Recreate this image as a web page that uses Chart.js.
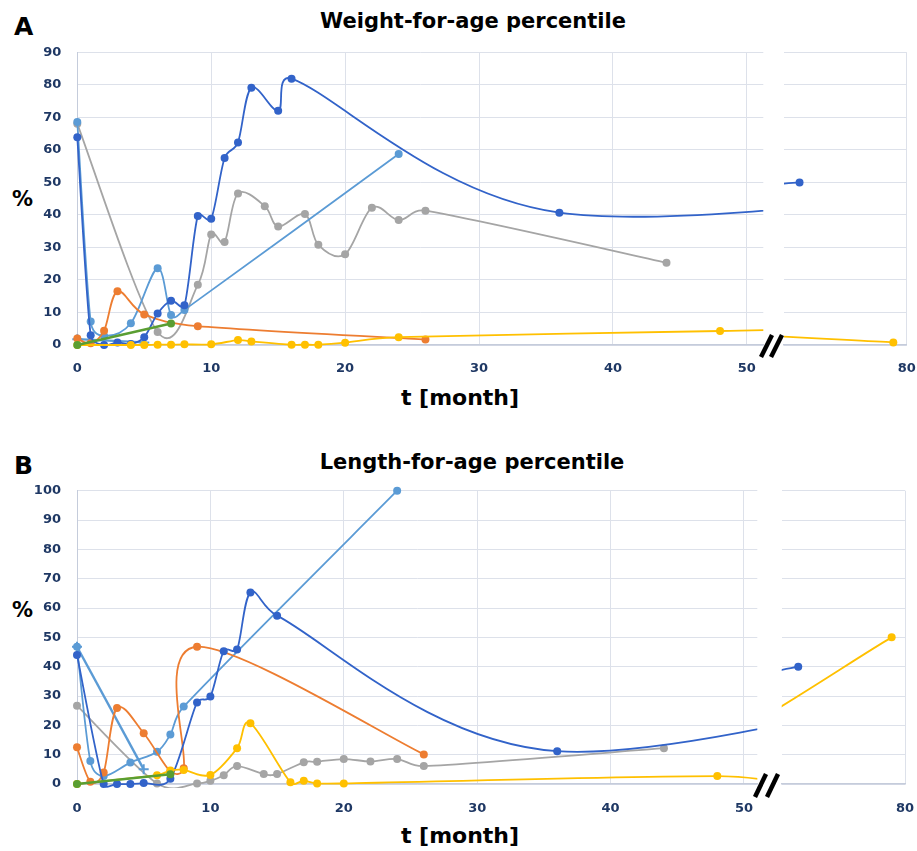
<!DOCTYPE html>
<html>
<head>
<meta charset="utf-8">
<script src="https://cdn.jsdelivr.net/npm/chart.js@4.4.1/dist/chart.umd.min.js"></script>
<style>
  body { margin: 0; background: #fff; }
  #wrap { position: relative; width: 917px; height: 851px; font-family: "DejaVu Sans", sans-serif; }
  canvas { position: absolute; }
  .t { position: absolute; font-weight: bold; color: #000; white-space: nowrap; line-height: 1; }
  .c { transform: translateX(-50%); }
</style>
</head>
<body>
<div id="wrap">
  <div class="t" style="left:14px;top:14px;font-size:25px">A</div>
  <div class="t c" style="left:473px;top:11px;font-size:21px">Weight-for-age percentile</div>
  <div class="t" style="left:12px;top:189px;font-size:21px">%</div>
  <div class="t c" style="left:460px;top:387px;font-size:22px">t [month]</div>

  <div class="t" style="left:14px;top:453px;font-size:25px">B</div>
  <div class="t c" style="left:472px;top:452px;font-size:21px">Length-for-age percentile</div>
  <div class="t" style="left:12px;top:600px;font-size:21px">%</div>
  <div class="t c" style="left:460px;top:825px;font-size:22px">t [month]</div>

  <canvas id="a1" width="775" height="380" style="left:0;top:40px"></canvas>
  <canvas id="a2" width="142" height="380" style="left:775px;top:40px"></canvas>
  <canvas id="b1" width="770" height="373" style="left:0;top:478px"></canvas>
  <canvas id="b2" width="147" height="373" style="left:770px;top:478px"></canvas>

  <svg width="917" height="851" style="position:absolute;left:0;top:0;pointer-events:none">
    <g stroke="#000" stroke-width="4.5">
      <line x1="761" y1="357" x2="772" y2="335"/>
      <line x1="771" y1="357" x2="782" y2="335"/>
      <line x1="755" y1="797" x2="766" y2="774"/>
      <line x1="767" y1="797" x2="778" y2="774"/>
    </g>
  </svg>
</div>
<script>
// tick labels
var xTicksMain = [0, 10, 20, 30, 40, 50];
var xTicksFar = [80];

// A: weight-for-age percentile (t in months)
var waDarkT = [0, 1, 2, 3, 4, 5, 6, 7, 8, 9, 10, 11, 12, 13, 15, 16, 36, 72];
var waDarkV = [63.9, 3.0, 0, 0.8, 0.3, 2.4, 9.7, 13.6, 12.2, 39.7, 38.8, 57.5, 62.3, 79.1, 72.0, 81.9, 40.7, 50];
var waLightT = [0, 1, 2, 4, 6, 7, 8, 24];
var waLightV = [68.6, 7.2, 2.8, 6.7, 23.6, 9.2, 10.8, 58.7];
var waCrossT = [0, 5];
var waCrossV = [1.8, 0.8];
var waGrayT = [0, 6, 9, 10, 11, 12, 14, 15, 17, 18, 20, 22, 24, 26, 44];
var waGrayV = [68, 4, 18.5, 34, 31.7, 46.6, 42.7, 36.4, 40.3, 30.8, 27.9, 42.2, 38.4, 41.3, 25.3];
var waOrangeT = [0, 1, 2, 3, 5, 9, 26];
var waOrangeV = [2.0, 0.5, 4.4, 16.5, 9.4, 5.8, 1.7];
var waYellowT = [0, 4, 5, 6, 7, 8, 10, 12, 13, 16, 17, 18, 20, 24, 48, 60, 79];
var waYellowV = [0, 0, 0, 0.1, 0.1, 0.2, 0.2, 1.5, 1.1, 0.1, 0.1, 0.1, 0.7, 2.4, 4.3, 4.6, 0.8];
var waGreenT = [0, 7];
var waGreenV = [0, 6.6];

// B: length-for-age percentile
var laDarkT = [0, 2, 3, 4, 5, 7, 9, 10, 11, 12, 13, 15, 36, 72];
var laDarkV = [44, 0, 0, 0, 0.3, 1.8, 27.8, 29.8, 45.3, 45.9, 65.3, 57.4, 11.2, 40];
var laLightT = [0, 1, 2, 4, 6, 7, 8, 24];
var laLightV = [46.8, 7.8, 2.7, 7.3, 11, 16.9, 26.4, 100];
var laCrossT = [0, 5];
var laCrossV = [46.8, 5];
var laGrayT = [0, 6, 9, 10, 11, 12, 14, 15, 17, 18, 20, 22, 24, 26, 44];
var laGrayV = [26.7, 0.2, 0.2, 1.1, 3, 6.1, 3.4, 3.4, 7.4, 7.6, 8.5, 7.7, 8.5, 6.1, 12.2];
var laOrangeT = [0, 1, 2, 3, 5, 7, 8, 9, 26];
var laOrangeV = [12.5, 0.8, 3.9, 25.9, 17.3, 4.3, 5.4, 46.8, 10.1];
var laYellowT = [0, 6, 7, 8, 10, 12, 13, 16, 17, 18, 20, 48, 60, 79];
var laYellowV = [0, 3, 4.6, 4.8, 3.1, 12.2, 20.7, 0.6, 1.1, 0.2, 0.2, 2.7, 0.4, 50];
var laGreenT = [0, 7];
var laGreenV = [0, 3.3];

var GRID = '#dde1ea', AXIS = '#c5ccdb', TICK = '#1f3864';
var C_DARK = '#3263c9', C_LIGHT = '#5b9bd5', C_GRAY = '#a5a5a5',
    C_ORANGE = '#ed7d31', C_YELLOW = '#ffc000', C_GREEN = '#5a9e32';
var FONT = { family: 'DejaVu Sans', weight: 'bold', size: 13 };

// spreadsheet-style smoothing: handles are 1/6 of the neighbour chord,
// but never longer than half of the segment they belong to
var excelSmooth = {
  id: 'excelSmooth',
  beforeDatasetDraw: function (chart, args) {
    var meta = args.meta, line = meta.dataset;
    if (!line || !line.options.tension) return;
    var p = meta.data, n = p.length;
    function P(i) { return p[Math.max(0, Math.min(n - 1, i))]; }
    function dist(a, b) { return Math.hypot(b.x - a.x, b.y - a.y); }
    for (var i = 0; i < n - 1; i++) {
      var a = P(i - 1), b = P(i), c = P(i + 1), d = P(i + 2);
      var d12 = dist(b, c), d02 = dist(a, c), d13 = dist(b, d);
      var f1 = d02 > 0 ? Math.min(1 / 6, d12 / (2 * d02)) : 0;
      var f2 = d13 > 0 ? Math.min(1 / 6, d12 / (2 * d13)) : 0;
      b.cp2x = b.x + (c.x - a.x) * f1; b.cp2y = b.y + (c.y - a.y) * f1;
      c.cp1x = c.x - (d.x - b.x) * f2; c.cp1y = c.y - (d.y - b.y) * f2;
    }
    p[0].cp1x = p[0].x; p[0].cp1y = p[0].y;
    p[n - 1].cp2x = p[n - 1].x; p[n - 1].cp2y = p[n - 1].y;
    line._pointsUpdated = true;
  }
};

function pts(t, v) {
  return t.map(function (x, i) { return { x: x, y: v[i] }; });
}

function datasets(d, clip) {
  function ds(t, v, color, extra) {
    var o = {
      data: pts(t, v), borderColor: color, backgroundColor: color,
      pointBackgroundColor: color, pointBorderWidth: 0, pointRadius: 4,
      borderWidth: 1.8, tension: 0.3, capBezierPoints: false, clip: clip
    };
    for (var k in extra) o[k] = extra[k];
    return o;
  }
  // first dataset is drawn on top
  return [
    ds(d.greenT, d.greenV, C_GREEN, { borderWidth: 2.6, tension: 0 }),
    ds(d.yellowT, d.yellowV, C_YELLOW),
    ds(d.darkT, d.darkV, C_DARK),
    ds(d.orangeT, d.orangeV, C_ORANGE),
    ds(d.crossT, d.crossV, C_LIGHT, { pointStyle: 'cross', pointRadius: 5, pointBorderWidth: 2,
      pointBorderColor: C_LIGHT, borderWidth: 2.4, tension: 0 }),
    ds(d.lightT, d.lightV, C_LIGHT),
    ds(d.grayT, d.grayV, C_GRAY)
  ];
}

function makeChart(id, d, cfg) {
  new Chart(document.getElementById(id), {
    type: 'line',
    data: { datasets: datasets(d, cfg.clip) },
    plugins: [excelSmooth],
    options: {
      responsive: false,
      animation: false,
      events: [],
      layout: { padding: cfg.pad },
      plugins: { legend: { display: false }, tooltip: { enabled: false } },
      scales: {
        x: {
          type: 'linear', min: cfg.xmin, max: cfg.xmax,
          grid: { color: GRID, drawTicks: false },
          border: { color: AXIS, width: 1.5 },
          ticks: { color: TICK, font: FONT, padding: cfg.xpad, maxRotation: 0, autoSkip: false },
          afterBuildTicks: function (s) {
            s.ticks = cfg.xticks.map(function (v) { return { value: v }; });
          },
          afterFit: function (s) { s.height = cfg.xh; s.paddingLeft = 0; s.paddingRight = 0; }
        },
        y: {
          min: 0, max: cfg.ymax,
          grid: { color: GRID, drawTicks: false },
          border: { display: cfg.yw > 0, color: AXIS },
          ticks: { display: cfg.yw > 0, stepSize: 10, color: TICK, font: FONT, padding: 16 },
          afterFit: function (s) { s.width = cfg.yw; s.paddingTop = 0; s.paddingBottom = 0; }
        }
      }
    }
  });
}

var panelA = { darkT: waDarkT, darkV: waDarkV, lightT: waLightT, lightV: waLightV,
  crossT: waCrossT, crossV: waCrossV, grayT: waGrayT, grayV: waGrayV,
  orangeT: waOrangeT, orangeV: waOrangeV, yellowT: waYellowT, yellowV: waYellowV,
  greenT: waGreenT, greenV: waGreenV };
var panelB = { darkT: laDarkT, darkV: laDarkV, lightT: laLightT, lightV: laLightV,
  crossT: laCrossT, crossV: laCrossV, grayT: laGrayT, grayV: laGrayV,
  orangeT: laOrangeT, orangeV: laOrangeV, yellowT: laYellowT, yellowV: laYellowV,
  greenT: laGreenT, greenV: laGreenV };

var clipL = { left: 6, top: 6, right: 0, bottom: 4 };
var clipR = { left: 0, top: 6, right: 6, bottom: 4 };

makeChart('a1', panelA, { xmin: 0, xmax: 51.23, xticks: xTicksMain, ymax: 90, yw: 77.3, xh: 75, xpad: 16,
  pad: { left: 0, top: 12.3, right: 11.7, bottom: 0 }, clip: clipL });
makeChart('a2', panelA, { xmin: 70.84, xmax: 80, xticks: xTicksFar, ymax: 90, yw: 0, xh: 75, xpad: 16,
  pad: { left: 9, top: 12.3, right: 10.3, bottom: 0 }, clip: clipR });
makeChart('b1', panelB, { xmin: 0, xmax: 51.0, xticks: xTicksMain, ymax: 100, yw: 77, xh: 67, xpad: 17,
  pad: { left: 0, top: 12.7, right: 12.7, bottom: 0 }, clip: clipL });
makeChart('b2', panelB, { xmin: 70.76, xmax: 80, xticks: xTicksFar, ymax: 100, yw: 0, xh: 67, xpad: 17,
  pad: { left: 11.7, top: 12.7, right: 12, bottom: 0 }, clip: clipR });
</script>
</body>
</html>
